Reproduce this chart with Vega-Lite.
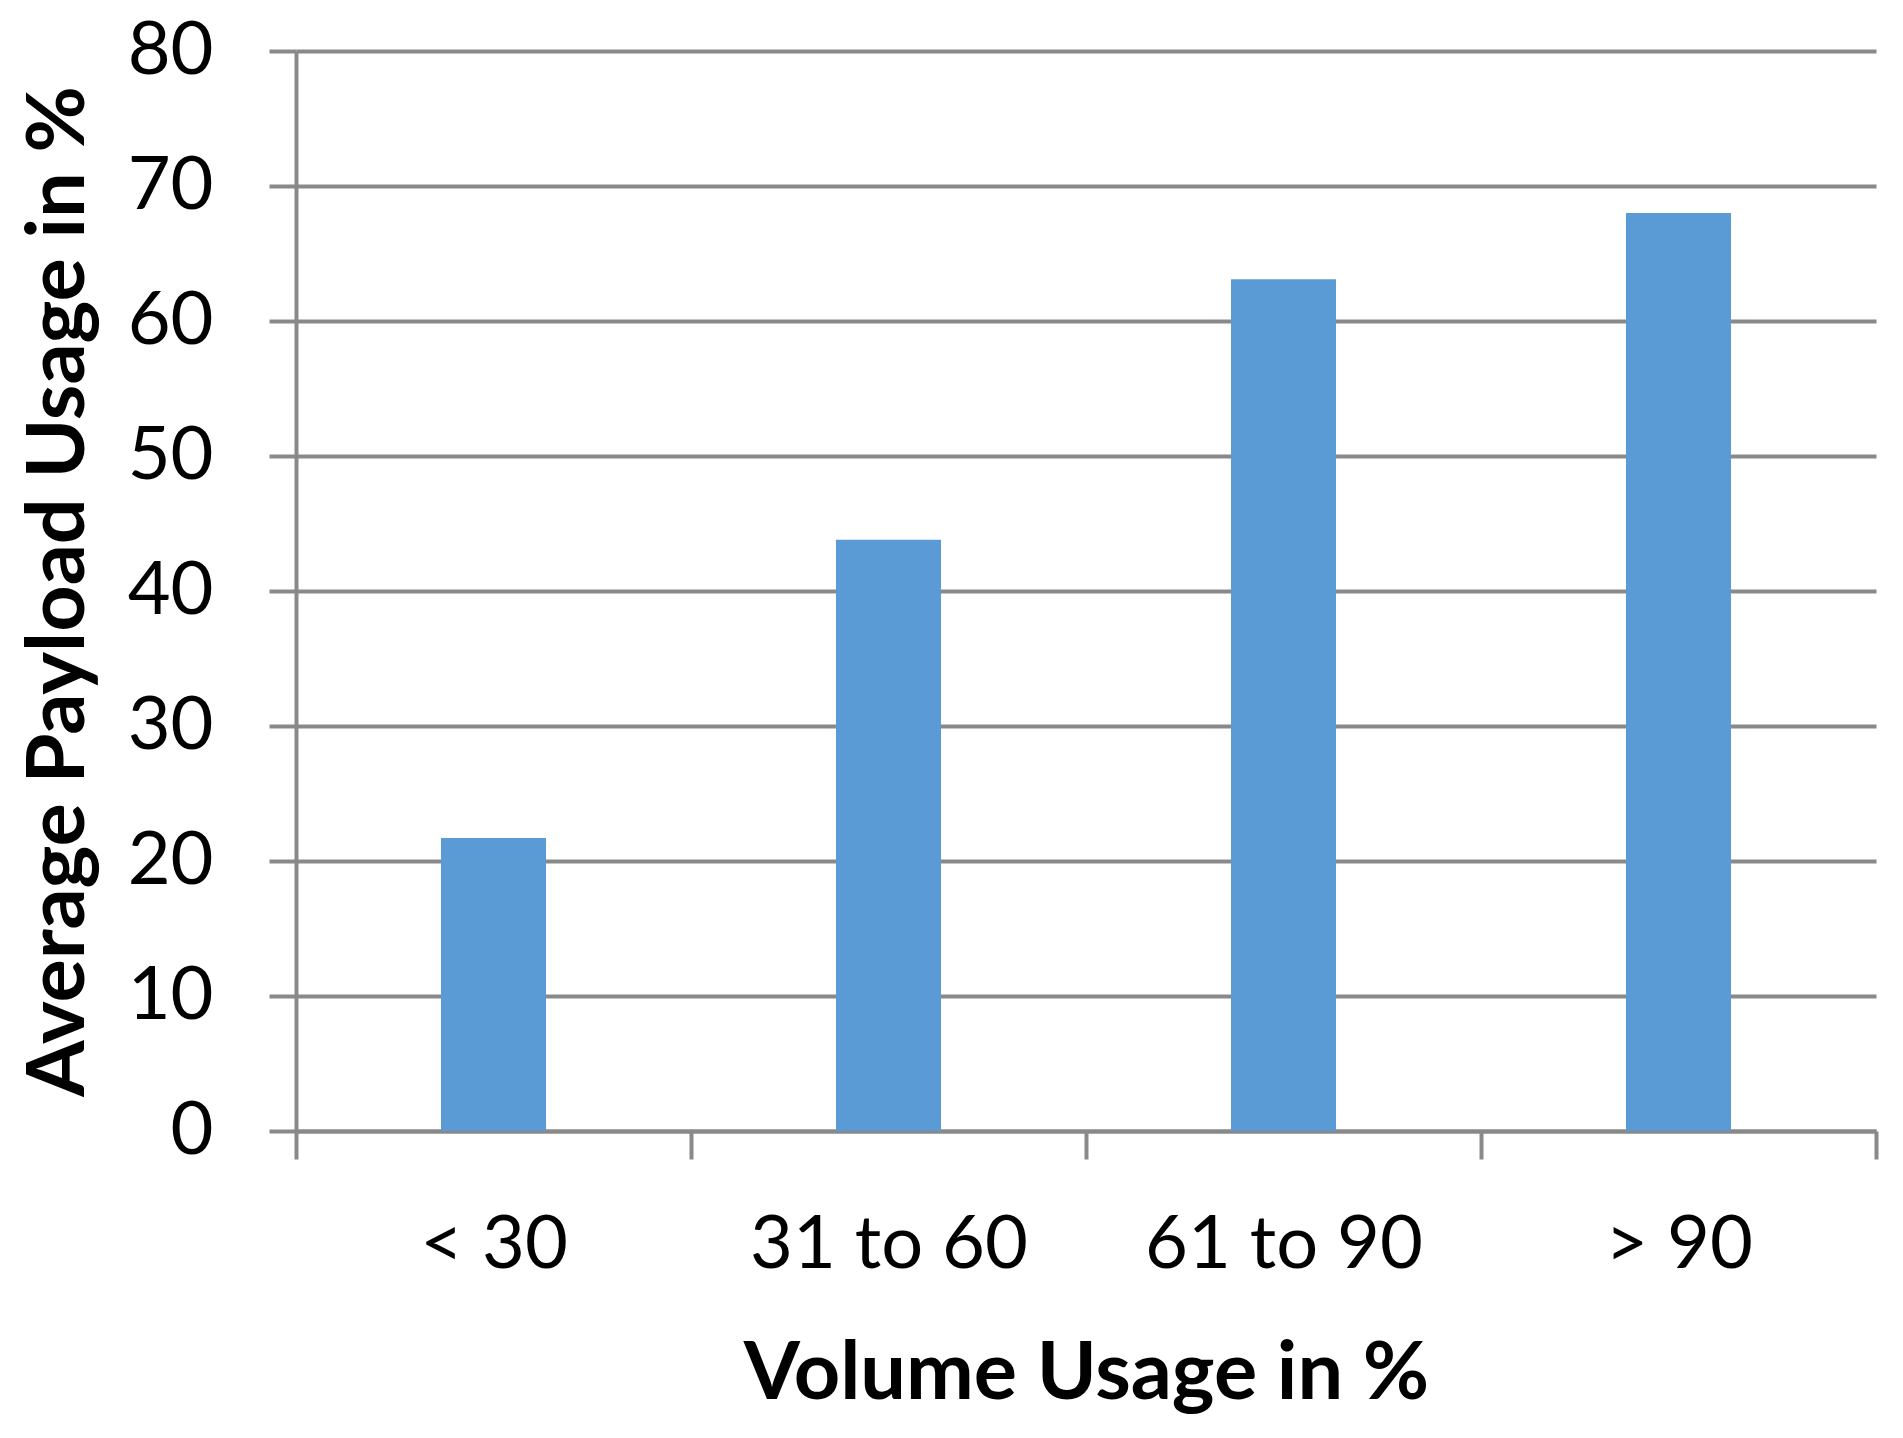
{
  "$schema": "https://vega.github.io/schema/vega-lite/v6.json",
  "autosize": {"type": "none"},
  "width": 1580,
  "height": 1080,
  "padding": {"left": 296, "top": 51, "right": 27, "bottom": 307},
  "background": "white",
  "data": {"values": [
    {"volume": "< 30", "payload": 21.7},
    {"volume": "31 to 60", "payload": 43.8},
    {"volume": "61 to 90", "payload": 63.1},
    {"volume": "> 90", "payload": 68.0}
  ]},
  "mark": {"type": "bar", "color": "#5B9BD5", "size": 105},
  "encoding": {
    "x": {
      "field": "volume", "type": "nominal", "sort": null,
      "scale": {"paddingInner": 0, "paddingOuter": 0},
      "axis": {
        "title": "Volume Usage in %",
        "labelAngle": 0,
        "labelLimit": 0,
        "tickBand": "extent",
        "tickSize": 28,
        "tickWidth": 4,
        "tickColor": "#898989",
        "domainColor": "#898989",
        "domainWidth": 4,
        "grid": false,
        "labelFont": "Lato",
        "labelFontSize": 74,
        "labelColor": "#000000",
        "labelPadding": 50,
        "titleFont": "Lato",
        "titleFontSize": 81,
        "titleFontWeight": "bold",
        "titleColor": "#000000",
        "titlePadding": 52
      }
    },
    "y": {
      "field": "payload", "type": "quantitative",
      "scale": {"domain": [0, 80], "nice": false},
      "axis": {
        "title": "Average Payload Usage in %",
        "values": [0, 10, 20, 30, 40, 50, 60, 70, 80],
        "grid": true,
        "gridColor": "#898989",
        "gridWidth": 4,
        "tickSize": 27,
        "tickWidth": 4,
        "tickColor": "#898989",
        "domainColor": "#898989",
        "domainWidth": 4,
        "labelFont": "Lato",
        "labelFontSize": 74,
        "labelColor": "#000000",
        "labelPadding": 56,
        "titleFont": "Lato",
        "titleFontSize": 81,
        "titleFontWeight": "bold",
        "titleColor": "#000000",
        "titlePadding": 27
      }
    }
  },
  "config": {"view": {"stroke": null}}
}
